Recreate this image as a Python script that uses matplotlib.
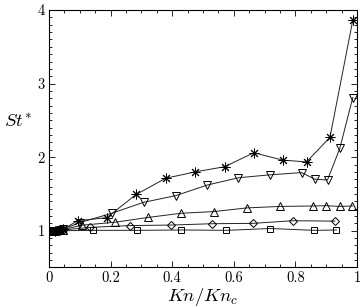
import numpy as np
import matplotlib
matplotlib.use('Agg')
from matplotlib import pyplot as plt
from matplotlib.ticker import MultipleLocator

plt.rcParams['font.family'] = 'cmr10'
plt.rcParams['mathtext.fontset'] = 'cm'
plt.rcParams['axes.formatter.use_mathtext'] = True

# 数据 (Kn/Kn_c, St*)
x_star = [0, 0.019, 0.036, 0.046, 0.093, 0.187, 0.284, 0.379, 0.475, 0.57, 0.665, 0.758, 0.836, 0.912, 0.986]
y_star = [1.0, 1.0, 1.01, 1.02, 1.136, 1.177, 1.495, 1.713, 1.80, 1.87, 2.06, 1.96, 1.935, 2.27, 3.86]

x_dtri = [0, 0.02, 0.035, 0.045, 0.1, 0.203, 0.307, 0.411, 0.513, 0.615, 0.718, 0.82, 0.863, 0.904, 0.944, 0.986]
y_dtri = [1.0, 1.0, 1.01, 1.02, 1.11, 1.236, 1.386, 1.476, 1.62, 1.72, 1.76, 1.79, 1.70, 1.69, 2.12, 2.81]

x_utri = [0, 0.02, 0.035, 0.045, 0.107, 0.214, 0.321, 0.428, 0.535, 0.642, 0.749, 0.856, 0.9, 0.943, 0.985]
y_utri = [1.0, 1.0, 1.01, 1.015, 1.075, 1.115, 1.18, 1.237, 1.26, 1.31, 1.33, 1.336, 1.34, 1.33, 1.336]

x_diam = [0, 0.02, 0.035, 0.045, 0.132, 0.264, 0.397, 0.529, 0.661, 0.793, 0.928]
y_diam = [1.0, 1.0, 1.005, 1.01, 1.045, 1.07, 1.077, 1.095, 1.10, 1.136, 1.13]

x_sq = [0, 0.02, 0.035, 0.045, 0.143, 0.286, 0.43, 0.575, 0.718, 0.861, 0.933]
y_sq = [1.0, 1.0, 1.0, 1.0, 1.005, 1.005, 1.01, 1.005, 1.03, 1.005, 1.01]

fig = plt.figure(figsize=(3.64, 3.08), dpi=100)
ax = fig.add_axes([0.1346, 0.1315, 0.8464, 0.836])

kw = dict(color='#222222', lw=0.7, mfc='none', mec='black', mew=0.7)
ax.plot(x_sq, y_sq, marker='s', ms=4.5, **kw)
ax.plot(x_diam, y_diam, marker='D', ms=3.8, **kw)
ax.plot(x_utri, y_utri, marker='^', ms=5.5, **kw)
ax.plot(x_dtri, y_dtri, marker='v', ms=5.5, **kw)
ax.plot(x_star, y_star, marker=(8, 2, 0), ms=7, **kw)

ax.set_xlim(0, 1)
ax.set_ylim(0.5, 4)
ax.xaxis.set_minor_locator(MultipleLocator(0.05))
ax.yaxis.set_minor_locator(MultipleLocator(0.1))
ax.set_xticks([0, 0.2, 0.4, 0.6, 0.8, 1])
ax.set_xticklabels(['0', '0.2', '0.4', '0.6', '0.8', '1'])
ax.set_yticks([1, 2, 3, 4])
ax.set_yticklabels(['1', '2', '3', '4'])
ax.tick_params(which='both', direction='in', top=True, right=True, labelsize=10.5, width=0.6)
ax.tick_params(which='major', length=4, pad=3)
ax.tick_params(which='minor', length=2)
for s in ax.spines.values():
	s.set_linewidth(0.8)

ax.set_xlabel(r'$Kn/Kn_c$', fontsize=13.5)
ax.xaxis.set_label_coords(0.5, -0.073)
ax.set_ylabel(r'$St^{*}$', fontsize=13.5, rotation=0)
ax.yaxis.set_label_coords(-0.1, 0.53)

fig.savefig('out.png', dpi=100)
